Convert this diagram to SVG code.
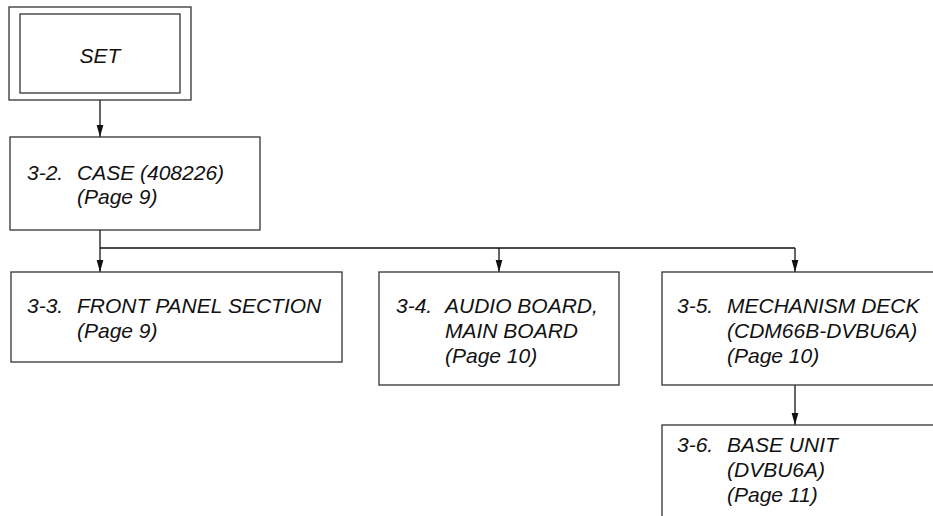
<svg xmlns="http://www.w3.org/2000/svg" width="933" height="516" viewBox="0 0 933 516">
<style>
.box{fill:#fff;stroke:#333;stroke-width:1.3}
.t{font-family:"Liberation Sans",Arial,sans-serif;font-style:italic;font-size:21px;fill:#111}
.c{fill:none;stroke:#111;stroke-width:1.3}
</style>
<defs>
<marker id="ah" markerWidth="13" markerHeight="8" refX="12.5" refY="4" orient="auto" markerUnits="userSpaceOnUse" viewBox="0 0 13 8">
<path d="M0,0.5 L12.5,4 L0,7.5 Z" fill="#111"/>
</marker>
</defs>
<g id="connectors">
<line class="c" x1="100" y1="100" x2="100" y2="137" marker-end="url(#ah)"/>
<line class="c" x1="100" y1="230" x2="100" y2="272" marker-end="url(#ah)"/>
<polyline class="c" points="100,248 795,248"/>
<line class="c" x1="499" y1="248" x2="499" y2="272" marker-end="url(#ah)"/>
<line class="c" x1="795" y1="248" x2="795" y2="272" marker-end="url(#ah)"/>
<line class="c" x1="795" y1="385" x2="795" y2="425" marker-end="url(#ah)"/>
</g>
<g id="set">
<rect class="box" x="9" y="7" width="182" height="93"/>
<rect class="box" x="20" y="14" width="160" height="79"/>
<text class="t" x="100" y="63" text-anchor="middle">SET</text>
</g>
<g id="case">
<rect class="box" x="10" y="137" width="250" height="93"/>
<text class="t" y="180"><tspan x="27">3-2.</tspan><tspan x="77">CASE (408226)</tspan><tspan x="77" y="204">(Page 9)</tspan></text>
</g>
<g id="front">
<rect class="box" x="11" y="272" width="331" height="90"/>
<text class="t" y="313"><tspan x="27">3-3.</tspan><tspan x="77">FRONT PANEL SECTION</tspan><tspan x="77" y="338">(Page 9)</tspan></text>
</g>
<g id="audio">
<rect class="box" x="379" y="272" width="240" height="113"/>
<text class="t" y="313"><tspan x="396">3-4.</tspan><tspan x="445">AUDIO BOARD,</tspan><tspan x="445" y="338">MAIN BOARD</tspan><tspan x="445" y="363">(Page 10)</tspan></text>
</g>
<g id="mech">
<rect class="box" x="662" y="272" width="290" height="113"/>
<text class="t" y="313"><tspan x="677">3-5.</tspan><tspan x="727">MECHANISM DECK</tspan><tspan x="727" y="338">(CDM66B-DVBU6A)</tspan><tspan x="727" y="363">(Page 10)</tspan></text>
</g>
<g id="base">
<rect class="box" x="662" y="425" width="290" height="110"/>
<text class="t" y="452"><tspan x="677">3-6.</tspan><tspan x="727">BASE UNIT</tspan><tspan x="727" y="477">(DVBU6A)</tspan><tspan x="727" y="502">(Page 11)</tspan></text>
</g>
</svg>
